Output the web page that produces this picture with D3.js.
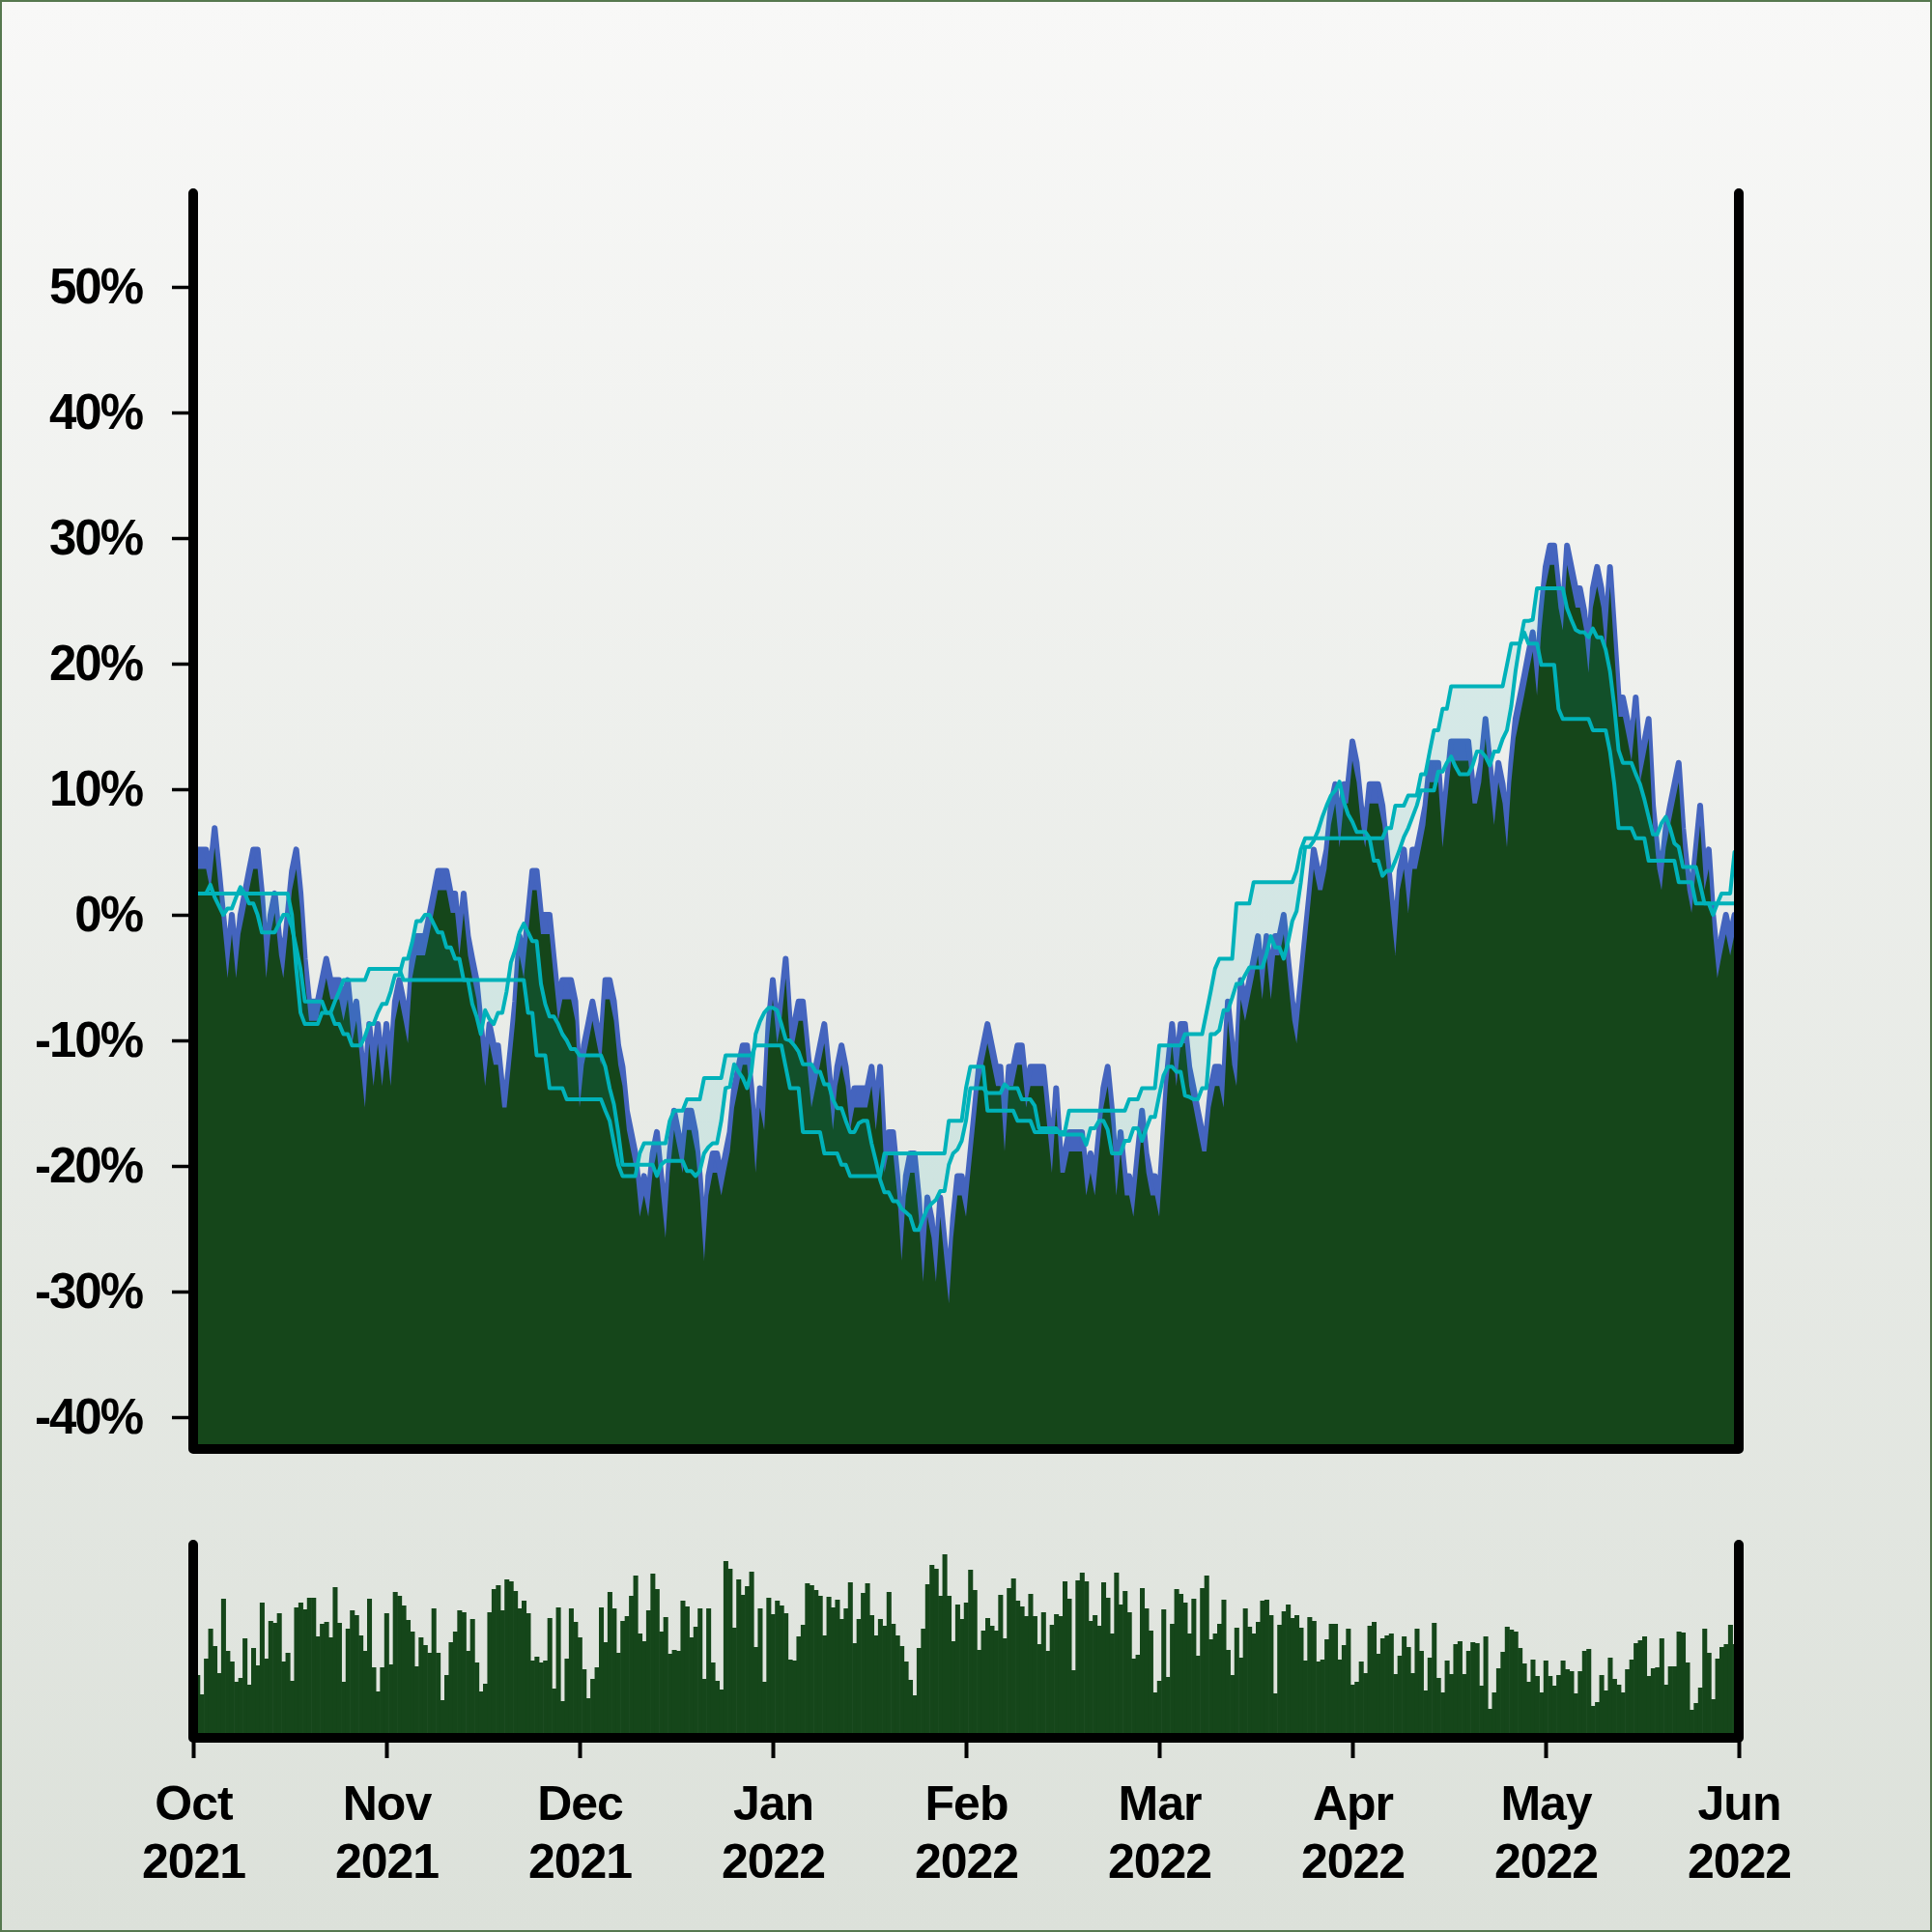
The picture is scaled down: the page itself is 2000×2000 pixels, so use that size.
<!DOCTYPE html>
<html>
<head>
<meta charset="utf-8">
<script src="https://cdn.jsdelivr.net/npm/d3@7"></script>
<style>
html,body{margin:0;padding:0;background:#ffffff;}
svg{display:block;}
text{font-family:"Liberation Sans",Arial,Helvetica,sans-serif;font-weight:bold;fill:#000;}
</style>
</head>
<body>
<svg id="chart" width="2000" height="2000"></svg>
<script>
// ---------------- DATA ----------------
const monthLabels = ["Oct","Nov","Dec","Jan","Feb","Mar","Apr","May","Jun"];
const yearLabels  = ["2021","2021","2021","2022","2022","2022","2022","2022","2022"];
const monthTickIndex = [0,45,90,135,180,225,270,315,360];
const yTickValues = [-40,-30,-20,-10,0,10,20,30,40,50];

// price (% change) — one value per sample
const price = [
3.5,5.2,5.2,5.2,3.5,6.9,3.5,0,-3.5,0,
-3.5,0,1.7,3.5,5.2,5.2,1.7,-3.5,0,1.7,
-1.7,-3.5,0,3.5,5.2,1.7,-3.5,-6.9,-6.9,-6.9,
-5.2,-3.5,-5.2,-5.2,-5.2,-6.9,-5.2,-8.7,-6.9,-10.4,
-13.8,-8.7,-12.1,-8.7,-12.1,-8.7,-12.1,-6.9,-5.2,-6.9,
-8.7,-3.5,-1.7,-1.7,-1.7,0,1.7,3.5,3.5,3.5,
1.7,1.7,-1.7,1.7,-1.7,-3.5,-5.2,-8.7,-12.1,-8.7,
-10.4,-10.4,-13.8,-13.8,-10.4,-6.9,-1.7,-3.5,0,3.5,
3.5,0,0,0,-3.5,-6.9,-5.2,-5.2,-5.2,-6.9,
-13.8,-10.4,-8.7,-6.9,-8.7,-10.4,-5.2,-5.2,-6.9,-10.4,
-12.1,-15.6,-17.3,-19.0,-22.5,-20.8,-22.5,-19.0,-17.3,-20.8,
-24.2,-19.0,-15.6,-17.3,-19.0,-15.6,-15.6,-17.3,-20.8,-26.0,
-20.8,-19.0,-19.0,-20.8,-19.0,-17.3,-13.8,-12.1,-10.4,-10.4,
-13.8,-19.0,-13.8,-15.6,-8.7,-5.2,-8.7,-6.9,-3.5,-8.7,
-8.7,-6.9,-6.9,-10.4,-13.8,-12.1,-10.4,-8.7,-12.1,-15.6,
-12.1,-10.4,-12.1,-15.6,-13.8,-13.8,-13.8,-13.8,-12.1,-15.6,
-12.1,-19.0,-17.3,-17.3,-20.8,-26.0,-20.8,-19.0,-19.0,-22.5,
-27.7,-22.5,-24.2,-27.7,-22.5,-26.0,-29.4,-24.2,-20.8,-20.8,
-22.5,-19.0,-15.6,-12.1,-10.4,-8.7,-10.4,-12.1,-12.1,-17.3,
-12.1,-12.1,-10.4,-10.4,-13.8,-12.1,-12.1,-12.1,-12.1,-15.6,
-19.0,-13.8,-19.0,-19.0,-17.3,-17.3,-17.3,-17.3,-20.8,-19.0,
-20.8,-17.3,-13.8,-12.1,-15.6,-20.8,-17.3,-20.8,-20.8,-22.5,
-19.0,-15.6,-19.0,-20.8,-20.8,-22.5,-17.3,-12.1,-8.7,-12.1,
-8.7,-8.7,-12.1,-13.8,-15.6,-17.3,-17.3,-13.8,-12.1,-12.1,
-13.8,-6.9,-10.4,-12.1,-5.2,-6.9,-5.2,-3.5,-1.7,-5.2,
-1.7,-5.2,-1.7,-1.7,0,-3.5,-6.9,-8.7,-5.2,-1.7,
1.7,5.2,3.5,3.5,5.2,8.7,10.4,6.9,10.4,10.4,
13.8,12.1,8.7,6.9,10.4,10.4,10.4,8.7,5.2,1.7,
-1.7,3.5,5.2,1.7,5.2,5.2,6.9,8.7,12.1,12.1,
12.1,6.9,10.4,13.8,13.8,13.8,13.8,13.8,10.4,10.4,
12.1,15.6,12.1,8.7,12.1,10.4,6.9,12.1,15.6,17.3,
19.0,20.8,22.5,19.0,24.2,27.7,29.4,29.4,26.0,24.2,
29.4,27.7,26.0,26.0,24.2,20.8,26.0,27.7,26.0,22.5,
27.7,22.5,17.3,17.3,15.6,13.8,17.3,12.1,13.8,15.6,
8.7,5.2,3.5,6.9,8.7,10.4,12.1,6.9,3.5,1.7,
5.2,8.7,3.5,5.2,0,-3.5,-1.7,0,-1.7,0,
0
];

// fast cyan line (%)
const spanA = [
1.7,1.7,1.7,1.7,2.4,1.4,0.7,0,0.5,0.5,
1.4,2.2,1.7,0.9,0.9,0,-1.4,-1.4,-1.4,-1.4,
-0.7,0,0,-1.0,-2.6,-4.3,-6.9,-6.9,-6.9,-6.9,
-6.9,-7.8,-7.8,-8.7,-8.7,-9.5,-9.5,-10.4,-10.4,-10.4,
-9.7,-8.7,-8.7,-7.8,-7.1,-7.1,-6.1,-4.8,-4.8,-3.5,
-3.5,-2.2,-0.5,-0.5,0,0,-0.7,-1.4,-1.4,-2.6,
-2.6,-3.5,-3.5,-5.2,-5.2,-7.1,-8.1,-9.5,-7.6,-8.3,
-8.7,-7.8,-7.8,-6.1,-3.8,-2.8,-1.4,-0.7,-1.4,-2.1,
-2.1,-5.5,-7.1,-8.1,-8.1,-8.7,-9.5,-10.0,-10.7,-10.7,
-11.2,-11.2,-11.2,-11.2,-11.2,-11.2,-12.1,-13.8,-15.1,-17.3,
-19.9,-19.9,-19.9,-19.9,-19.9,-19.9,-19.9,-19.9,-20.8,-19.9,
-19.6,-19.6,-19.6,-19.6,-19.6,-20.4,-20.4,-20.8,-20.4,-19.0,
-18.5,-18.2,-18.2,-16.4,-13.8,-13.7,-11.9,-12.5,-13.0,-13.8,
-12.5,-9.5,-8.5,-7.8,-7.4,-7.4,-7.6,-8.7,-9.9,-10.0,
-10.4,-10.9,-11.9,-11.9,-11.9,-12.5,-12.5,-13.5,-13.5,-14.7,
-15.4,-15.4,-16.4,-17.3,-17.3,-16.6,-16.4,-16.4,-18.2,-19.6,
-21.1,-22.1,-22.1,-22.8,-22.8,-23.4,-23.7,-24.0,-25.1,-25.1,
-24.2,-23.4,-23.0,-22.7,-22.0,-22.0,-19.9,-19.0,-18.7,-18.0,
-16.4,-13.8,-13.8,-13.8,-13.8,-14.2,-14.2,-14.2,-14.2,-13.5,
-13.8,-13.8,-13.8,-14.7,-14.7,-14.7,-15.2,-17.0,-17.0,-17.0,
-17.0,-17.0,-17.5,-17.5,-17.5,-17.5,-17.5,-17.5,-18.3,-17.0,
-17.0,-16.4,-16.4,-17.1,-19.0,-19.0,-19.0,-18.0,-18.0,-17.0,
-17.0,-18.0,-17.0,-16.1,-16.1,-14.4,-12.8,-12.1,-12.1,-12.5,
-12.5,-14.4,-14.5,-14.7,-14.7,-13.8,-13.8,-9.5,-9.5,-9.2,
-7.6,-7.6,-6.6,-5.5,-5.5,-4.8,-4.2,-4.2,-4.2,-4.2,
-3.1,-1.7,-2.6,-2.6,-3.5,-2.2,-0.5,0.3,2.6,5.4,
5.4,5.9,6.7,7.8,8.7,9.5,9.9,10.6,9.0,8.0,
7.4,6.6,6.6,6.6,6.1,4.3,4.3,3.1,3.5,3.5,
4.3,5.2,6.2,6.9,7.8,8.7,9.9,9.9,9.9,9.9,
11.4,11.4,12.1,12.6,11.8,11.2,11.2,11.2,11.9,13.0,
13.0,12.6,11.9,13.0,13.0,14.0,14.7,16.6,19.4,21.6,
23.4,23.4,23.5,26.0,26.0,26.0,26.0,26.0,26.0,26.0,
24.4,23.5,22.7,22.5,22.5,22.1,22.8,22.1,22.1,21.1,
19.4,16.6,13.1,12.1,12.1,12.1,11.2,10.4,9.2,7.8,
6.4,6.4,7.3,7.8,6.9,5.7,5.4,3.8,3.8,3.8,
3.8,2.4,0.9,0.9,0,0.9,1.7,1.7,1.7,5.0,
5.2
];

// slow cyan line (%)
const spanB = [
1.7,1.7,1.7,1.7,1.7,1.7,1.7,1.7,1.7,1.7,
1.7,1.7,1.7,1.7,1.7,1.7,1.7,1.7,1.7,1.7,
1.7,1.7,1.7,0,-4.3,-7.8,-8.7,-8.7,-8.7,-8.7,
-7.8,-7.8,-7.8,-6.9,-6.1,-5.2,-5.2,-5.2,-5.2,-5.2,
-5.2,-4.3,-4.3,-4.3,-4.3,-4.3,-4.3,-4.3,-4.3,-5.2,
-5.2,-5.2,-5.2,-5.2,-5.2,-5.2,-5.2,-5.2,-5.2,-5.2,
-5.2,-5.2,-5.2,-5.2,-5.2,-5.2,-5.2,-5.2,-5.2,-5.2,
-5.2,-5.2,-5.2,-5.2,-5.2,-5.2,-5.2,-5.2,-7.8,-7.8,
-11.2,-11.2,-11.2,-13.8,-13.8,-13.8,-13.8,-14.7,-14.7,-14.7,
-14.7,-14.7,-14.7,-14.7,-14.7,-14.7,-15.6,-16.4,-18.2,-19.9,
-20.8,-20.8,-20.8,-20.8,-19.0,-18.2,-18.2,-18.2,-18.2,-18.2,
-18.2,-16.4,-15.6,-15.6,-15.6,-14.7,-14.7,-14.7,-14.7,-13.0,
-13.0,-13.0,-13.0,-13.0,-11.2,-11.2,-11.2,-11.2,-11.2,-11.2,
-11.2,-10.4,-10.4,-10.4,-10.4,-10.4,-10.4,-10.4,-12.1,-13.8,
-13.8,-13.8,-17.3,-17.3,-17.3,-17.3,-17.3,-19.0,-19.0,-19.0,
-19.0,-19.9,-19.9,-20.8,-20.8,-20.8,-20.8,-20.8,-20.8,-20.8,
-20.8,-19.0,-19.0,-19.0,-19.0,-19.0,-19.0,-19.0,-19.0,-19.0,
-19.0,-19.0,-19.0,-19.0,-19.0,-19.0,-16.4,-16.4,-16.4,-16.4,
-13.8,-12.1,-12.1,-12.1,-12.1,-15.6,-15.6,-15.6,-15.6,-15.6,
-15.6,-15.6,-16.4,-16.4,-16.4,-16.4,-17.3,-17.3,-17.3,-17.3,
-17.3,-17.3,-17.3,-17.3,-15.6,-15.6,-15.6,-15.6,-15.6,-15.6,
-15.6,-15.6,-15.6,-15.6,-15.6,-15.6,-15.6,-15.6,-14.7,-14.7,
-14.7,-13.8,-13.8,-13.8,-13.8,-10.4,-10.4,-10.4,-10.4,-10.4,
-10.4,-9.5,-9.5,-9.5,-9.5,-9.5,-7.8,-6.1,-4.3,-3.5,
-3.5,-3.5,-3.5,0.9,0.9,0.9,0.9,2.6,2.6,2.6,
2.6,2.6,2.6,2.6,2.6,2.6,2.6,3.5,5.2,6.1,
6.1,6.1,6.1,6.1,6.1,6.1,6.1,6.1,6.1,6.1,
6.1,6.1,6.1,6.1,6.1,6.1,6.1,6.1,6.9,6.9,
8.7,8.7,8.7,9.5,9.5,9.5,11.2,11.2,13.0,14.7,
14.7,16.4,16.4,18.2,18.2,18.2,18.2,18.2,18.2,18.2,
18.2,18.2,18.2,18.2,18.2,18.2,19.9,21.6,21.6,21.6,
22.5,21.6,21.6,21.6,19.9,19.9,19.9,19.9,16.4,15.6,
15.6,15.6,15.6,15.6,15.6,15.6,14.7,14.7,14.7,14.7,
13.0,10.4,6.9,6.9,6.9,6.9,6.1,6.1,6.1,4.3,
4.3,4.3,4.3,4.3,4.3,4.3,2.6,2.6,2.6,2.6,
0.9,0.9,0.9,0.9,0.9,0.9,0.9,0.9,0.9,0.9,
0.9
];

// volume (arbitrary units)
const volume = [
82,63,43,80,111,93,65,142,88,77,
56,60,101,53,91,73,138,80,119,117,
127,77,86,57,133,138,131,143,143,103,
116,118,102,154,117,56,111,130,125,104,
88,142,71,46,71,127,74,149,145,135,
120,108,72,102,94,86,132,86,37,63,
97,108,130,128,88,121,76,46,54,128,
152,156,130,162,160,150,132,140,127,78,
82,76,78,122,49,133,36,80,132,118,
102,69,39,59,71,133,97,149,132,86,
119,124,145,166,106,98,130,168,152,108,
123,85,89,88,140,134,102,113,132,59,
132,76,57,48,181,173,112,162,146,155,
170,92,132,56,143,126,140,135,127,79,
78,103,115,158,156,151,145,104,144,133,
141,121,132,159,96,121,148,158,125,104,
121,114,149,116,104,93,77,58,42,91,
111,157,177,173,145,188,145,98,
136,121,138,172,151,89,109,122,114,109,
146,101,153,163,140,134,124,147,124,95,
128,88,115,126,124,160,142,68,161,169,
160,119,125,114,159,143,106,169,136,150,
128,80,84,153,132,109,45,57,131,61,
116,152,147,138,106,142,83,153,166,100,
106,116,141,89,63,112,81,132,113,106,
118,140,141,125,44,115,129,136,122,125,
112,78,123,119,77,79,100,116,116,79,
94,111,53,56,77,65,114,118,85,101,
104,106,64,83,103,92,65,111,88,47,
81,117,60,45,78,64,95,98,64,88,
97,96,52,103,28,45,70,87,113,110,
108,91,75,56,79,62,45,78,62,52,
63,78,69,67,44,67,88,90,31,35,
63,47,81,59,53,45,69,79,96,99,
103,62,70,71,101,53,72,72,108,107,
76,27,34,50,111,86,38,80,92,95,
115,95,93
];

// ---------------- LAYOUT / STYLE ----------------
const W = 2000, H = 2000;
const plot = {left:200, right:1800, top:200, bottom:1500};
const volPanel = {top:1599, bottom:1799};
const COL = {
  blue:"#4464be", green:"#15461a", cyan:"#00b2ba",
  axis:"#000000", border:"#56784f", bgTop:"#f8f8f7", bgBottom:"#dce1da"
};
const blueBand = 20; // px thickness of the blue edge above the green fill

const svg = d3.select("#chart");
const defs = svg.append("defs");
const grad = defs.append("linearGradient").attr("id","bg")
  .attr("x1",0).attr("y1",0).attr("x2",0).attr("y2",1);
grad.append("stop").attr("offset","0%").attr("stop-color",COL.bgTop);
grad.append("stop").attr("offset","100%").attr("stop-color",COL.bgBottom);
svg.append("rect").attr("width",W).attr("height",H).attr("fill","url(#bg)");
svg.append("rect").attr("x",1).attr("y",1).attr("width",W-2).attr("height",H-2)
  .attr("fill","none").attr("stroke",COL.border).attr("stroke-width",2);

// scales
const x = d3.scaleLinear().domain([0, price.length - 1]).range([plot.left, plot.right]);
const y = d3.scaleLinear().domain([-40, 50]).range([1467, 297]);
const yv = d3.scaleLinear().domain([0, 200]).range([1797, 1597]);

defs.append("clipPath").attr("id","clipMain").append("rect")
  .attr("x",plot.left).attr("y",plot.top)
  .attr("width",plot.right-plot.left).attr("height",plot.bottom-plot.top);
defs.append("clipPath").attr("id","clipVol").append("rect")
  .attr("x",plot.left).attr("y",volPanel.top)
  .attr("width",plot.right-plot.left).attr("height",volPanel.bottom-volPanel.top);

// ---------------- MAIN PANEL ----------------
const gMain = svg.append("g").attr("clip-path","url(#clipMain)");

gMain.append("path").datum(price)
  .attr("d", d3.area().x((d,i)=>x(i)).y0(plot.bottom+20).y1(d=>y(d)))
  .attr("fill", COL.blue);
gMain.append("path").datum(price)
  .attr("d", d3.line().x((d,i)=>x(i)).y(d=>y(d)))
  .attr("fill","none").attr("stroke",COL.blue).attr("stroke-width",6)
  .attr("stroke-linejoin","round");
gMain.append("path").datum(price)
  .attr("d", d3.area().x((d,i)=>x(i)).y0(plot.bottom+40).y1(d=>y(d)+blueBand))
  .attr("fill", COL.green);

// cloud between the two cyan lines
const nCloud = Math.min(spanA.length, spanB.length);
gMain.append("path").datum(d3.range(nCloud))
  .attr("d", d3.area().x(i=>x(i)).y0(i=>y(spanA[i])).y1(i=>y(spanB[i])))
  .attr("fill", COL.cyan).attr("fill-opacity", 0.1);

[spanA, spanB].forEach(s => {
  gMain.append("path").datum(s)
    .attr("d", d3.line().x((d,i)=>x(i)).y(d=>y(d)))
    .attr("fill","none").attr("stroke",COL.cyan).attr("stroke-width",4)
    .attr("stroke-linejoin","round");
});

// ---------------- VOLUME PANEL ----------------
const bw = x(1) - x(0);
svg.append("g").attr("clip-path","url(#clipVol)")
  .selectAll("rect").data(volume).join("rect")
  .attr("x",(d,i)=>x(i)-bw/2).attr("width",bw+0.6)
  .attr("y",d=>yv(d)).attr("height",d=>yv(0)-yv(d))
  .attr("fill",COL.green);

// ---------------- AXES ----------------
function frame(top, bottom){
  svg.append("path")
    .attr("d", `M${plot.left},${top} V${bottom} H${plot.right} V${top}`)
    .attr("fill","none").attr("stroke",COL.axis).attr("stroke-width",10)
    .attr("stroke-linecap","round").attr("stroke-linejoin","round");
}
frame(plot.top, plot.bottom);
frame(volPanel.top, volPanel.bottom);

// y axis
const yAxis = svg.append("g").attr("transform",`translate(${plot.left},0)`)
  .call(d3.axisLeft(y).tickValues(yTickValues).tickSize(22).tickPadding(31)
        .tickFormat(d => `${d}%`));
yAxis.select(".domain").remove();
yAxis.selectAll(".tick line").attr("stroke",COL.axis).attr("stroke-width",3.5);
yAxis.selectAll(".tick text")
  .style("font-size","51px").style("letter-spacing","-2px")
  .attr("font-family",null).attr("fill","#000");

// x axis (under volume panel)
const xAxis = svg.append("g").attr("transform",`translate(0,${volPanel.bottom})`)
  .call(d3.axisBottom(x).tickValues(monthTickIndex).tickSize(21).tickFormat(""));
xAxis.select(".domain").remove();
xAxis.selectAll(".tick line").attr("stroke",COL.axis).attr("stroke-width",4);
xAxis.selectAll(".tick").each(function(d,i){
  const t = d3.select(this).append("text")
    .attr("text-anchor","middle").style("font-size","50px").style("letter-spacing","-1px");
  t.append("tspan").attr("x",0).attr("y",85).text(monthLabels[i]);
  t.append("tspan").attr("x",0).attr("y",145).text(yearLabels[i]);
});
</script>
</body>
</html>
